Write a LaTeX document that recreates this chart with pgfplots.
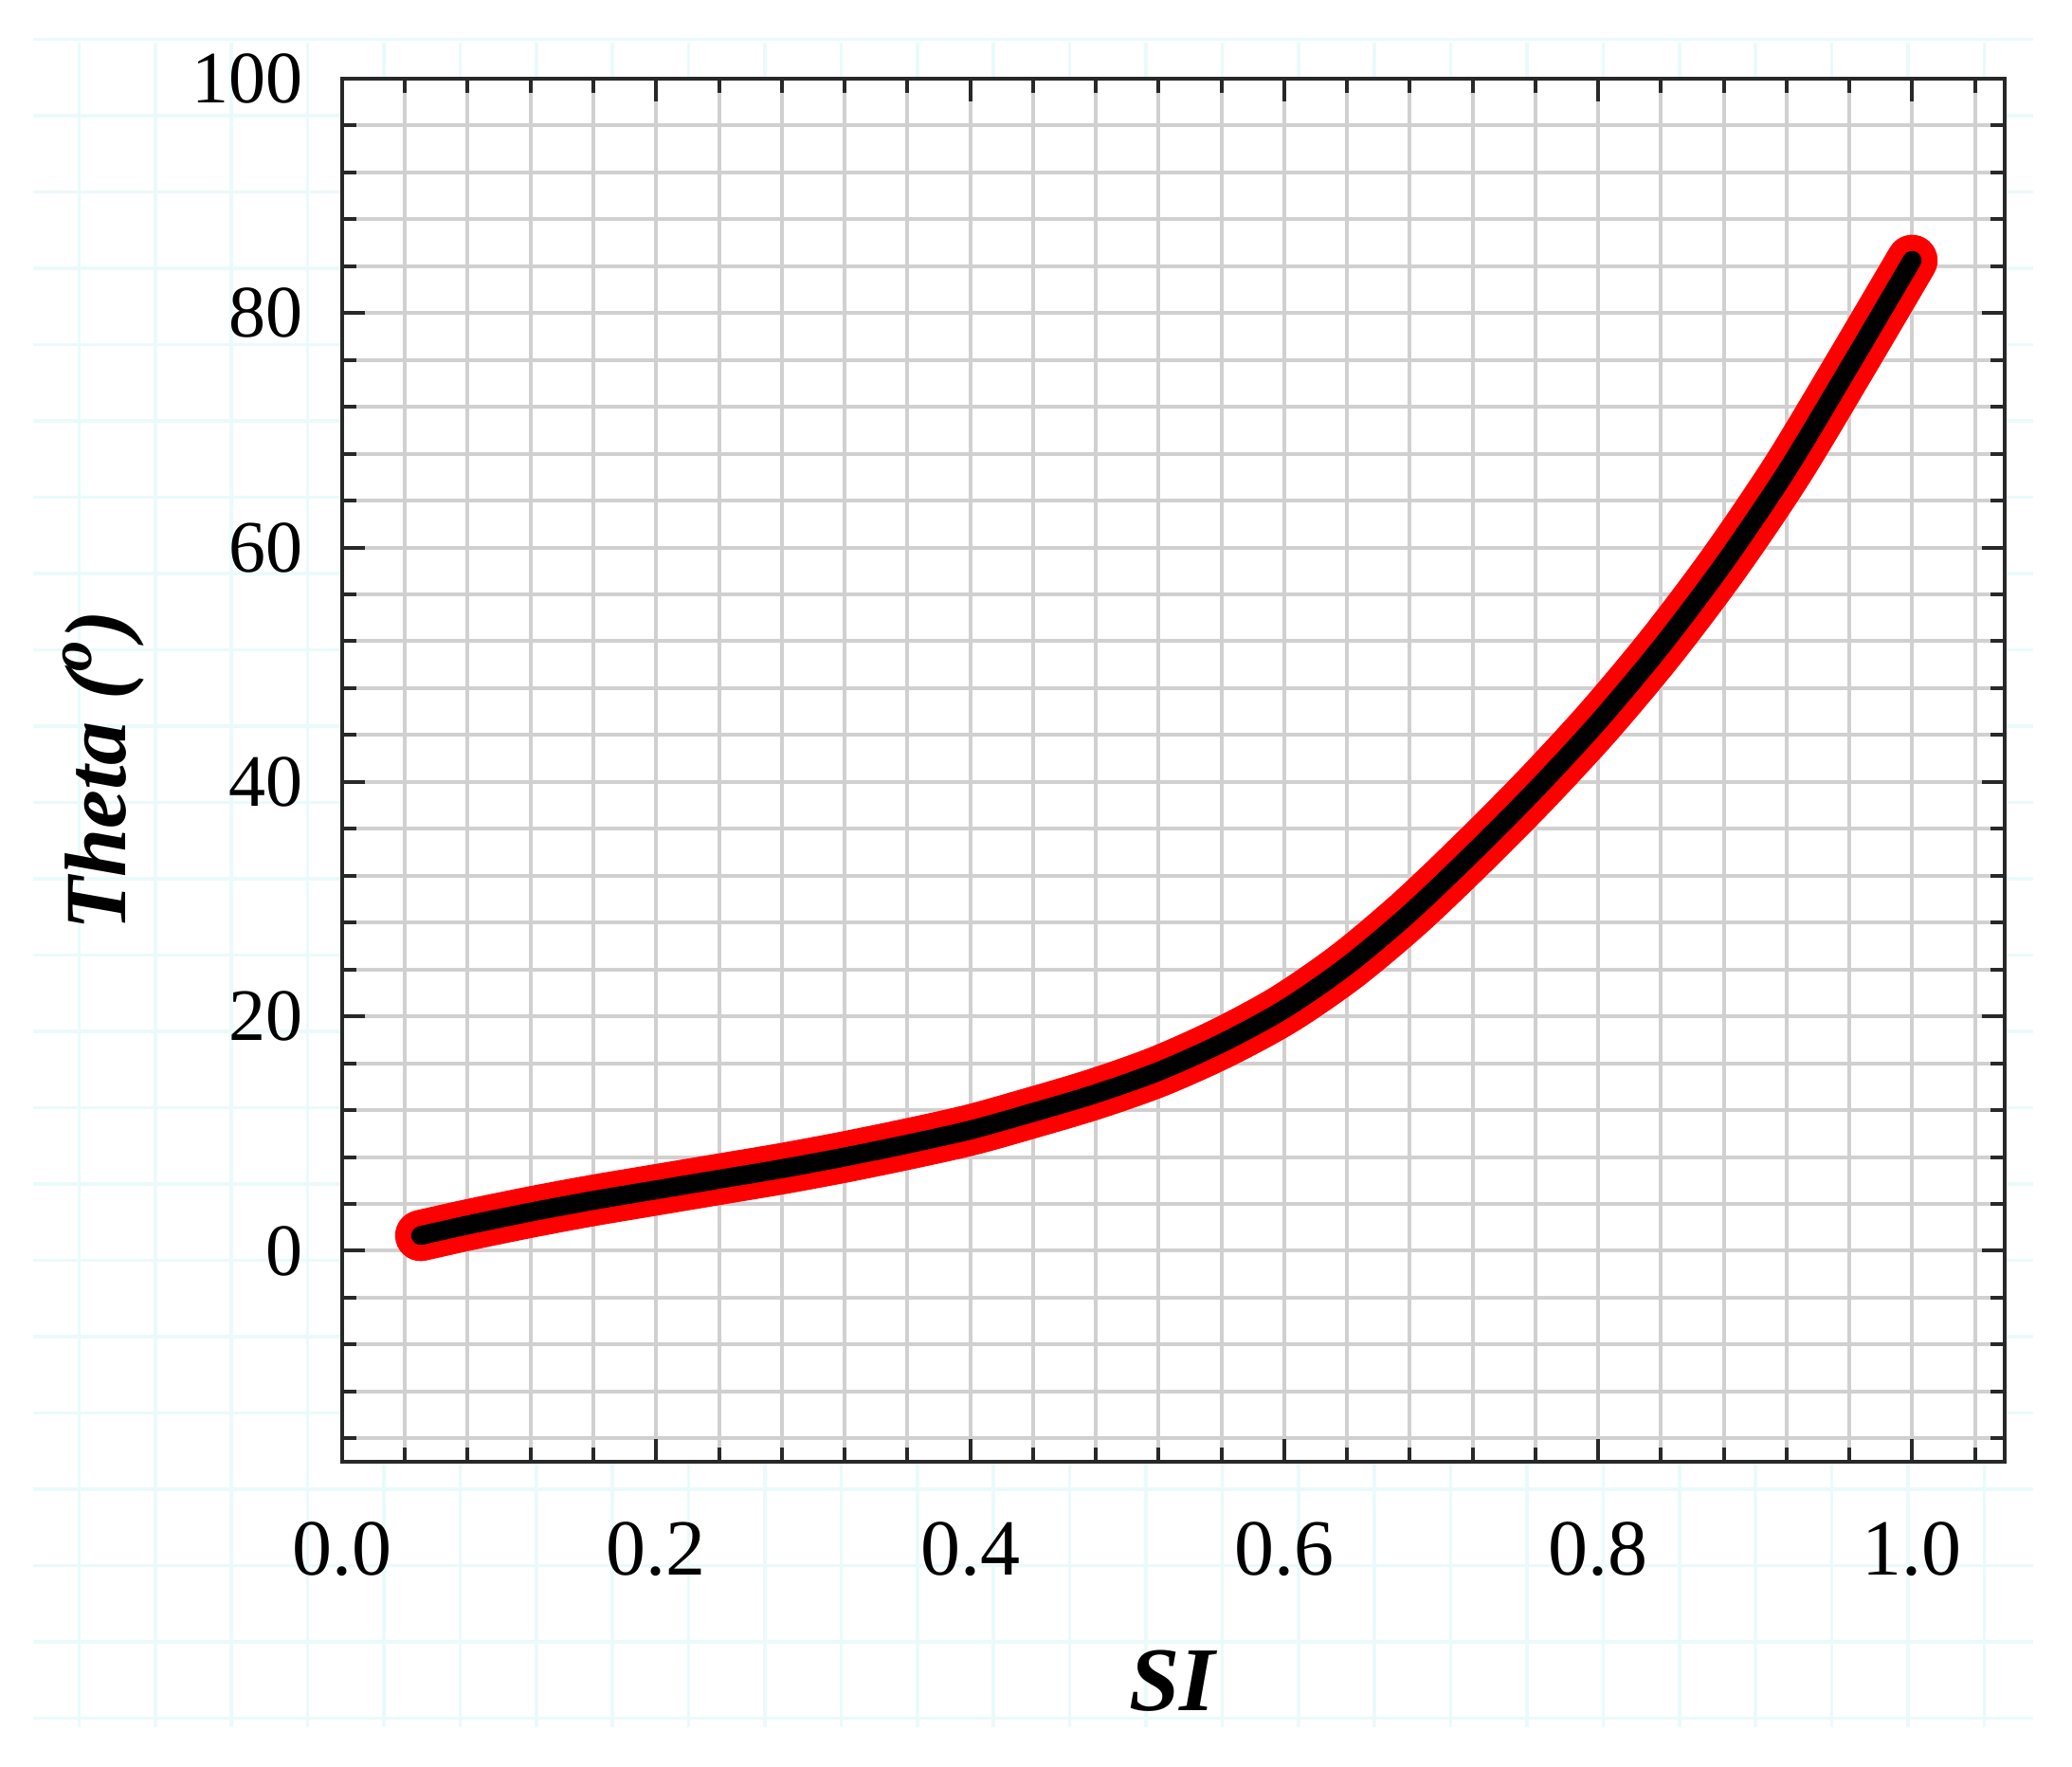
\documentclass[border=0pt]{standalone}
\usepackage{pgfplots}
\pgfplotsset{compat=1.18}
\usepackage{fontspec}
\setmainfont{Liberation Serif}
\definecolor{paper}{RGB}{234,250,251}
\definecolor{gridgray}{RGB}{208,208,208}
\definecolor{axisdark}{RGB}{40,40,40}
\pgfplotstableread{
x y
0.05 1.3
0.08 2.2
0.12 3.3
0.16 4.3
0.20 5.2
0.24 6.1
0.28 7.0
0.32 8.0
0.36 9.1
0.40 10.3
0.44 11.8
0.48 13.4
0.52 15.3
0.56 17.7
0.60 20.6
0.64 24.3
0.68 28.8
0.72 33.9
0.76 39.3
0.80 45.1
0.84 51.5
0.88 58.6
0.92 66.5
0.96 75.4
1.00 84.5
}\curvedata
\begin{document}
\begin{tikzpicture}
\fill[white] (-90.25pt,-80.5pt) rectangle (456.25pt,385.5pt);
% faint paper grid in the background
\foreach \k in {-4,...,21} {
  \draw[paper, line width=0.9pt] ({(405+80.4*\k-361)/4*1pt},{(1542-45)/4*1pt}) -- ({(405+80.4*\k-361)/4*1pt},{(1542-1822)/4*1pt});
}
\foreach \k in {-1,...,21} {
  \draw[paper, line width=0.9pt] ({(35-361)/4*1pt},{(1542-122-80.5*\k)/4*1pt}) -- ({(2145-361)/4*1pt},{(1542-122-80.5*\k)/4*1pt});
}
\begin{axis}[
  at={(0pt,0pt)}, anchor=south west,
  scale only axis,
  width=438.5pt, height=364.75pt,
  xmin=0, xmax=1.059, ymin=-18, ymax=100,
  axis background/.style={fill=white},
  axis line style={axisdark, line width=1.2pt},
  xtick={0,0.2,0.4,0.6,0.8,1.0},
  ytick={0,20,40,60,80,100},
  minor xtick={0.04,0.08,0.12,0.16,0.24,0.28,0.32,0.36,0.44,0.48,0.52,0.56,0.64,0.68,0.72,0.76,0.84,0.88,0.92,0.96,1.04},
  minor ytick={-16,-12,-8,-4,4,8,12,16,24,28,32,36,44,48,52,56,64,68,72,76,84,88,92,96},
  grid=both,
  major grid style={gridgray, line width=1pt},
  minor grid style={gridgray, line width=1pt},
  tick align=inside,
  tick pos=both,
  major tick length=6pt,
  minor tick length=3.75pt,
  every tick/.style={axisdark, line width=1pt},
  /pgf/number format/assume math mode=true,
  xticklabel style={font=\fontsize{21}{21}\selectfont, anchor=center, inner sep=0pt, yshift=-23pt,
    /pgf/number format/fixed, /pgf/number format/fixed zerofill, /pgf/number format/precision=1},
  yticklabel style={font=\fontsize{19.5}{19.5}\selectfont, anchor=east, inner sep=0pt, xshift=-10.25pt},
  xlabel={\textbf{\textit{SI}}},
  ylabel={\textbf{\textit{Theta (\textsuperscript{o})}}},
  xlabel style={font=\fontsize{24}{24}\selectfont, at={(axis description cs:0.5,-0.1583)}, anchor=center},
  ylabel style={font=\fontsize{23}{23}\selectfont, at={(axis description cs:-0.1437,0.5)}, anchor=center},
  clip=true,
]
\addplot[red, line width=13.5pt, line cap=round, line join=round, smooth] table[x=x,y=y] {\curvedata};
\addplot[black, line width=5pt, line cap=round, line join=round, smooth] table[x=x,y=y] {\curvedata};
\end{axis}
\pgfresetboundingbox
\path (-90.25pt,-80.5pt) rectangle (456.25pt,385.5pt);
\end{tikzpicture}
\end{document}
